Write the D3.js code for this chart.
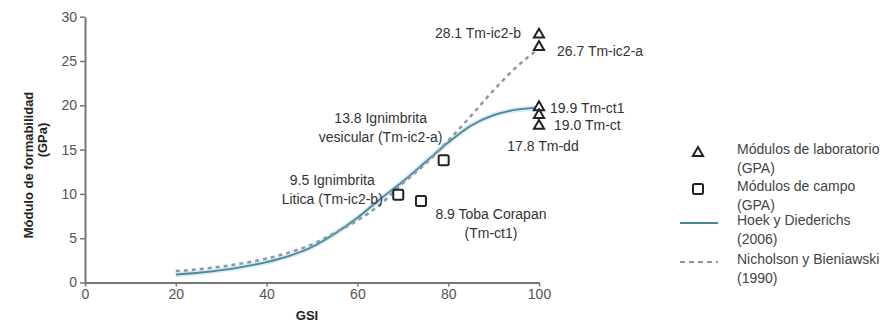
<!DOCTYPE html>
<html>
<head>
<meta charset="utf-8">
<script src="https://cdn.jsdelivr.net/npm/d3@7"></script>
<style>
    body { margin: 0; background: #fff; }
    svg { font-family: "Liberation Sans", Arial, sans-serif; }
    .axis path, .axis line { stroke: #777; }
    .axis text { fill: #555; font-size: 14px; font-family: "Liberation Sans", Arial, sans-serif; }
</style>
</head>
<body>
<div id="chart"></div>
<script>
// curves (GSI -> modulus GPa)
var gsiCurve = [20, 25, 30, 35, 40, 45, 50, 55, 60, 65, 70, 75, 80, 85, 90, 95, 100];
var hoekDiederichs = [0.9, 1.1, 1.4, 1.8, 2.3, 3.0, 4.0, 5.5, 7.3, 9.4, 11.4, 13.6, 15.8, 17.7, 18.9, 19.5, 19.7];
var nicholsonBieniawski = [1.3, 1.5, 1.8, 2.2, 2.7, 3.4, 4.3, 5.6, 7.0, 8.8, 11.2, 13.4, 16.0, 18.8, 21.7, 24.3, 26.4];

// laboratory points (triangles)
var labGsi = [100, 100, 100, 100, 100];
var labValues = [28.1, 26.7, 19.9, 19.0, 17.8];
var labLabels = ["28.1 Tm-ic2-b", "26.7 Tm-ic2-a", "19.9 Tm-ct1", "19.0 Tm-ct", "17.8 Tm-dd"];

// field points (squares)
var fieldGsi = [79, 69, 74];
var fieldValues = [13.8, 9.9, 9.2];
var fieldLabels = [
    ["13.8 Ignimbrita", "vesicular (Tm-ic2-a)"],
    ["9.5 Ignimbrita", "Litica (Tm-ic2-b)"],
    ["8.9 Toba Corapan", "(Tm-ct1)"]
];

var xTicks = [0, 20, 40, 60, 80, 100];
var yTicks = [0, 5, 10, 15, 20, 25, 30];

var legendLabels = [
    ["Módulos de laboratorio", "(GPA)"],
    ["Módulos de campo", "(GPA)"],
    ["Hoek y Diederichs", "(2006)"],
    ["Nicholson y Bieniawski", "(1990)"]
];

var width = 887, height = 322;
var solidColor = "#4a8799", dashColor = "#8a9ba6";

var svg = d3.select("#chart").append("svg")
    .attr("width", width)
    .attr("height", height);

var x = d3.scaleLinear().domain([0, 100]).range([85, 539]);
var y = d3.scaleLinear().domain([0, 30]).range([282.5, 16.7]);

// axes
svg.append("g")
    .attr("class", "axis")
    .attr("transform", "translate(0," + y(0) + ")")
    .call(d3.axisBottom(x).tickValues(xTicks).tickSize(4).tickSizeOuter(0).tickPadding(3))
    .call(function (g) {
        g.select(".domain").attr("stroke-width", 2);
        g.selectAll(".tick line").attr("stroke-width", 1.5);
    });

svg.append("g")
    .attr("class", "axis")
    .attr("transform", "translate(" + x(0) + ",0)")
    .call(d3.axisLeft(y).tickValues(yTicks).tickSize(5).tickSizeOuter(0).tickPadding(3))
    .call(function (g) {
        g.select(".domain").attr("stroke-width", 2);
        g.selectAll(".tick line").attr("stroke-width", 1.5);
    });

// axis titles
svg.append("text")
    .attr("x", 307).attr("y", 320)
    .attr("text-anchor", "middle")
    .attr("font-size", 13).attr("font-weight", "bold").attr("fill", "#222")
    .text("GSI");

var yTitle = svg.append("text")
    .attr("transform", "translate(33,165) rotate(-90)")
    .attr("text-anchor", "middle")
    .attr("font-size", 13).attr("font-weight", "bold").attr("fill", "#222");
yTitle.append("tspan").attr("x", 0).attr("y", 0).text("Módulo de formabilidad");
yTitle.append("tspan").attr("x", 25).attr("y", 14).text("(GPa)");

// curves
var curveData = function (vals) {
    return gsiCurve.map(function (g, i) { return [g, vals[i]]; });
};
var line = d3.line()
    .x(function (d) { return x(d[0]); })
    .y(function (d) { return y(d[1]); })
    .curve(d3.curveMonotoneX);

// soft halo like the original
svg.append("path").datum(curveData(hoekDiederichs))
    .attr("d", line).attr("fill", "none")
    .attr("stroke", "#d6eaf1").attr("stroke-width", 5);
svg.append("path").datum(curveData(hoekDiederichs))
    .attr("d", line).attr("fill", "none")
    .attr("stroke", solidColor).attr("stroke-width", 1.8);

svg.append("path").datum(curveData(nicholsonBieniawski))
    .attr("d", line).attr("fill", "none")
    .attr("stroke", dashColor).attr("stroke-width", 2.5)
    .attr("stroke-dasharray", "4,4");

// markers
var tri = d3.symbol().type(d3.symbolTriangle).size(45);

svg.selectAll(".lab").data(labValues).enter().append("path")
    .attr("class", "lab")
    .attr("d", tri)
    .attr("transform", function (d, i) { return "translate(" + x(labGsi[i]) + "," + (y(d) + 1) + ")"; })
    .attr("fill", "#fff").attr("stroke", "#222").attr("stroke-width", 2);

svg.selectAll(".field").data(fieldValues).enter().append("rect")
    .attr("class", "field")
    .attr("x", function (d, i) { return x(fieldGsi[i]) - 5; })
    .attr("y", function (d) { return y(d) - 5; })
    .attr("width", 10).attr("height", 10).attr("rx", 1.5)
    .attr("fill", "#fff").attr("stroke", "#222").attr("stroke-width", 2);

// point labels
var labOffsets = [[-18, 4, "end"], [18, 10, "start"], [11, 7, "start"], [15, 16, "start"], [4, 26, "middle"]];
svg.selectAll(".labtext").data(labLabels).enter().append("text")
    .attr("class", "labtext")
    .attr("x", function (d, i) { return x(labGsi[i]) + labOffsets[i][0]; })
    .attr("y", function (d, i) { return y(labValues[i]) + labOffsets[i][1]; })
    .attr("text-anchor", function (d, i) { return labOffsets[i][2]; })
    .attr("font-size", 14).attr("fill", "#333")
    .text(function (d) { return d; });

var fieldOffsets = [[-63, -37], [-66, -10], [70, 18]];
fieldLabels.forEach(function (lines, i) {
    var t = svg.append("text")
        .attr("text-anchor", "middle")
        .attr("font-size", 14).attr("fill", "#333");
    lines.forEach(function (s, j) {
        t.append("tspan")
            .attr("x", x(fieldGsi[i]) + fieldOffsets[i][0])
            .attr("y", y(fieldValues[i]) + fieldOffsets[i][1] + j * 19)
            .text(s);
    });
});

// legend
var legend = svg.append("g").attr("transform", "translate(680,0)");
var legendY = [152, 189, 223, 262];

legend.append("path").attr("d", tri)
    .attr("transform", "translate(18," + (legendY[0] + 1) + ")")
    .attr("fill", "#fff").attr("stroke", "#222").attr("stroke-width", 2);
legend.append("rect")
    .attr("x", 13).attr("y", legendY[1] - 5).attr("width", 10).attr("height", 10).attr("rx", 1.5)
    .attr("fill", "#fff").attr("stroke", "#222").attr("stroke-width", 2);
legend.append("line")
    .attr("x1", 0).attr("x2", 38).attr("y1", legendY[2]).attr("y2", legendY[2])
    .attr("stroke", solidColor).attr("stroke-width", 2);
legend.append("line")
    .attr("x1", 0).attr("x2", 38).attr("y1", legendY[3]).attr("y2", legendY[3])
    .attr("stroke", dashColor).attr("stroke-width", 2)
    .attr("stroke-dasharray", "5,4");

legendLabels.forEach(function (lines, i) {
    var t = legend.append("text").attr("font-size", 14).attr("fill", "#444");
    lines.forEach(function (s, j) {
        t.append("tspan")
            .attr("x", 57)
            .attr("y", legendY[i] + 2 + j * 19)
            .text(s);
    });
});
</script>
</body>
</html>
